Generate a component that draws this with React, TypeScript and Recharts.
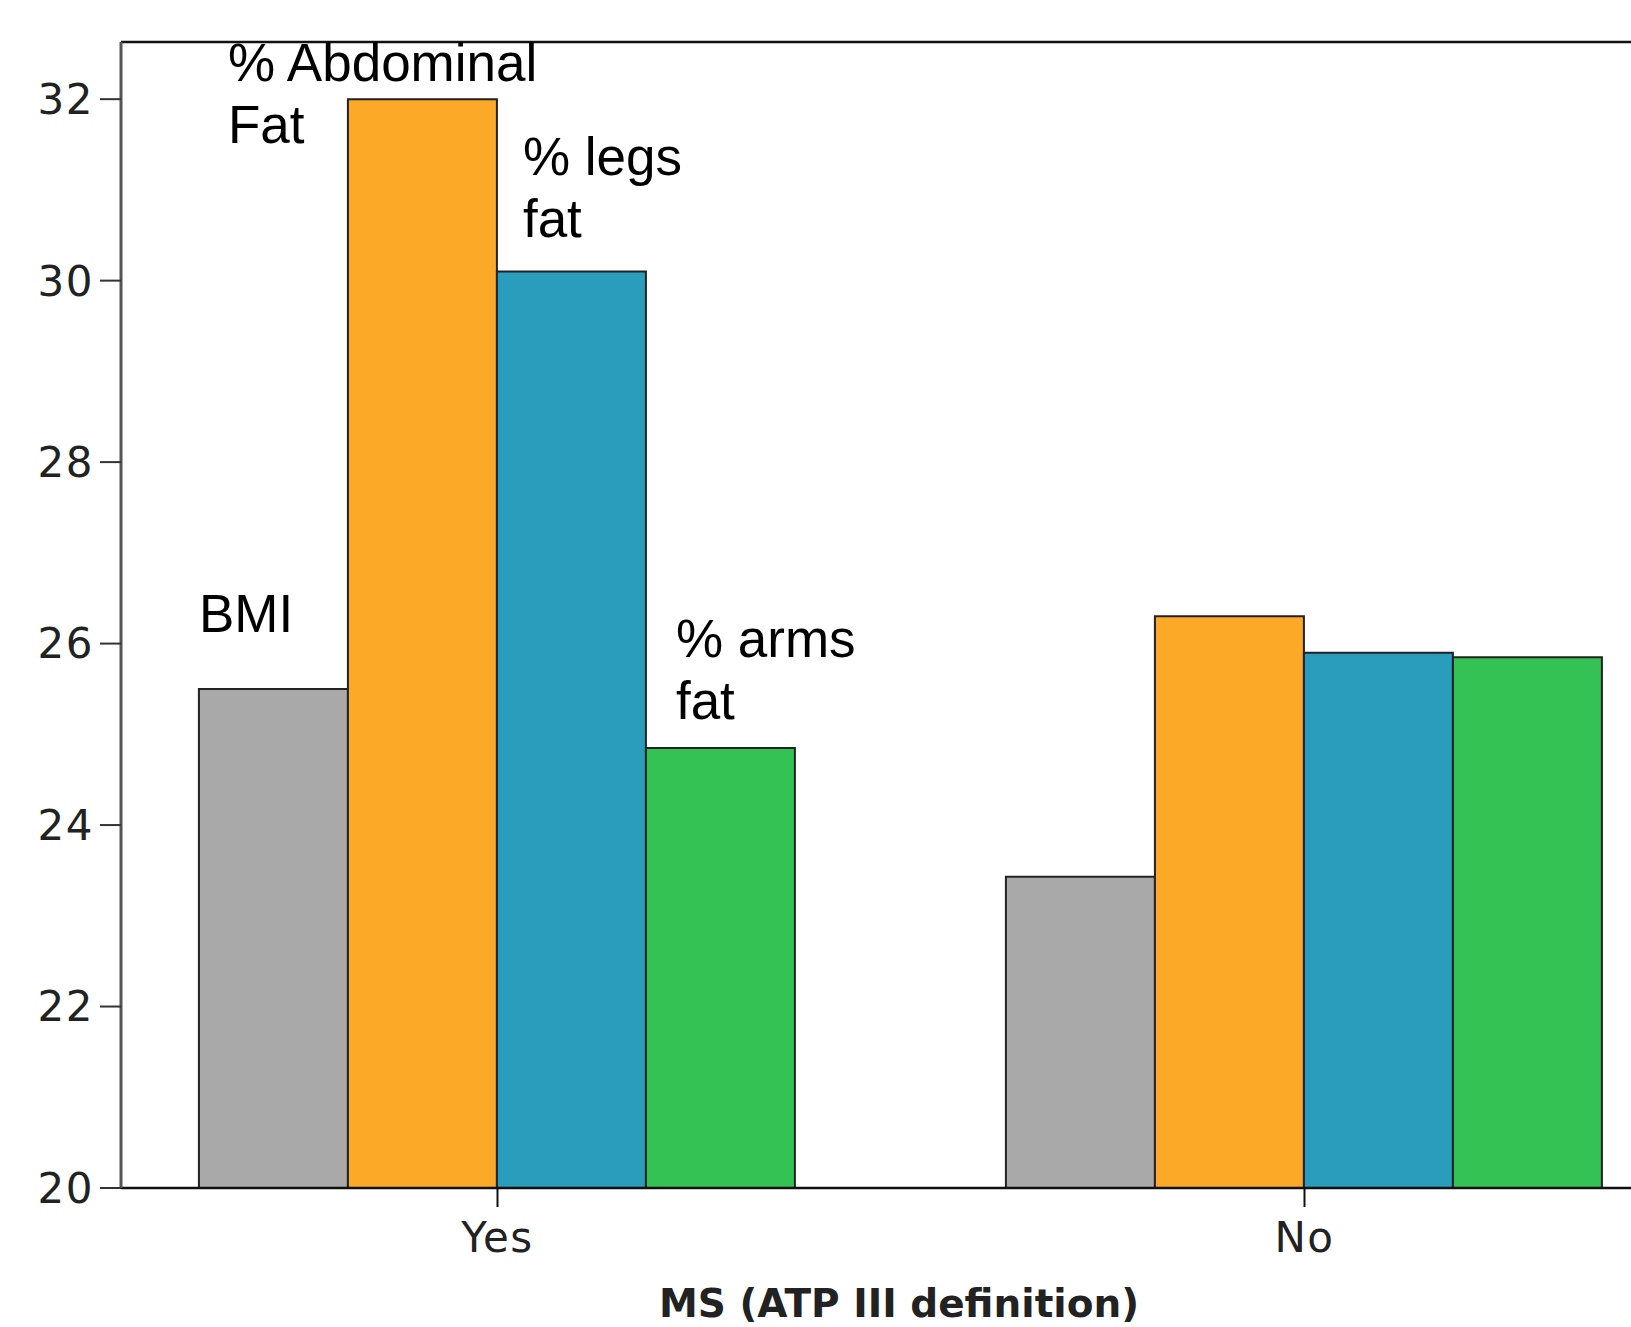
import { BarChart, Bar, XAxis, YAxis, LabelList, ReferenceLine } from 'recharts';

// MS (ATP III definition) groups
const groups = ['Yes', 'No'];
const bmi = [25.5, 23.43];
const abdominalFat = [32.0, 26.3];
const legsFat = [30.1, 25.9];
const armsFat = [24.85, 25.85];
const yTicks = [20, 22, 24, 26, 28, 30, 32];
const Y_MIN = 20;
const Y_MAX = 32.63;

// annotation text shown above the "Yes" bars
const bmiLabel = ['BMI'];
const abdominalLabel = ['% Abdominal', 'Fat'];
const legsLabel = ['% legs', 'fat'];
const armsLabel = ['% arms', 'fat'];

const data = groups.map((g, i) => ({
  name: g,
  bmi: bmi[i],
  abdominal: abdominalFat[i],
  legs: legsFat[i],
  arms: armsFat[i],
}));

const tickFont = { fontSize: 42, fontFamily: 'DejaVu Sans', fill: '#222', letterSpacing: 1.5 };

// offset of each annotation from its bar's top-left corner
const annotation = (lines: string[], dx: number, dy: number) =>
  // eslint-disable-next-line @typescript-eslint/no-explicit-any
  (props: any) => {
    if (props.index !== 0) return null;
    const x = Number(props.x) + dx;
    const y = Number(props.y) + dy;
    return (
      <text x={x} y={y} fontFamily="Liberation Sans, Arial" fontSize={53} fill="#000">
        {lines.map((l, i) => (
          <tspan key={i} x={x} dy={i === 0 ? 0 : 62}>
            {l}
          </tspan>
        ))}
      </text>
    );
  };

export default function App() {
  return (
    <div
      style={{
        position: 'absolute',
        left: 0,
        top: 0,
        width: 1631,
        height: 1327,
        overflow: 'hidden',
        background: '#fff',
      }}
    >
      <BarChart
        width={1677}
        height={1327}
        data={data}
        margin={{ top: 42, right: 0, bottom: 0, left: 0 }}
        barCategoryGap="13%"
        barGap={0}
      >
        <XAxis
          dataKey="name"
          height={139}
          padding={{ left: -27, right: -31 }}
          tick={tickFont}
          tickSize={19}
          tickMargin={15}
          axisLine={{ stroke: '#111', strokeWidth: 2.5 }}
          tickLine={{ stroke: '#111', strokeWidth: 2 }}
          label={{
            value: 'MS (ATP III definition)',
            position: 'insideBottom',
            offset: 10,
            style: { fontSize: 39, fontFamily: 'DejaVu Sans', fontWeight: 'bold', fill: '#222' },
          }}
        />
        <YAxis
          type="number"
          width={121}
          domain={[Y_MIN, Y_MAX]}
          ticks={yTicks}
          allowDataOverflow
          tick={tickFont}
          tickSize={21}
          tickMargin={6}
          axisLine={{ stroke: '#555', strokeWidth: 3 }}
          tickLine={{ stroke: '#333', strokeWidth: 2 }}
        />
        <ReferenceLine y={Y_MAX} stroke="#111" strokeWidth={2.5} />
        <Bar dataKey="bmi" fill="#a9a9a9" stroke="#222" strokeWidth={2} isAnimationActive={false}>
          <LabelList dataKey="bmi" content={annotation(bmiLabel, 0, -57)} />
        </Bar>
        <Bar dataKey="abdominal" fill="#fba926" stroke="#222" strokeWidth={2} isAnimationActive={false}>
          <LabelList dataKey="abdominal" content={annotation(abdominalLabel, -120, -18)} />
        </Bar>
        <Bar dataKey="legs" fill="#2a9cbc" stroke="#222" strokeWidth={2} isAnimationActive={false}>
          <LabelList dataKey="legs" content={annotation(legsLabel, 26, -97)} />
        </Bar>
        <Bar dataKey="arms" fill="#34c254" stroke="#222" strokeWidth={2} isAnimationActive={false}>
          <LabelList dataKey="arms" content={annotation(armsLabel, 30, -91)} />
        </Bar>
      </BarChart>
    </div>
  );
}
